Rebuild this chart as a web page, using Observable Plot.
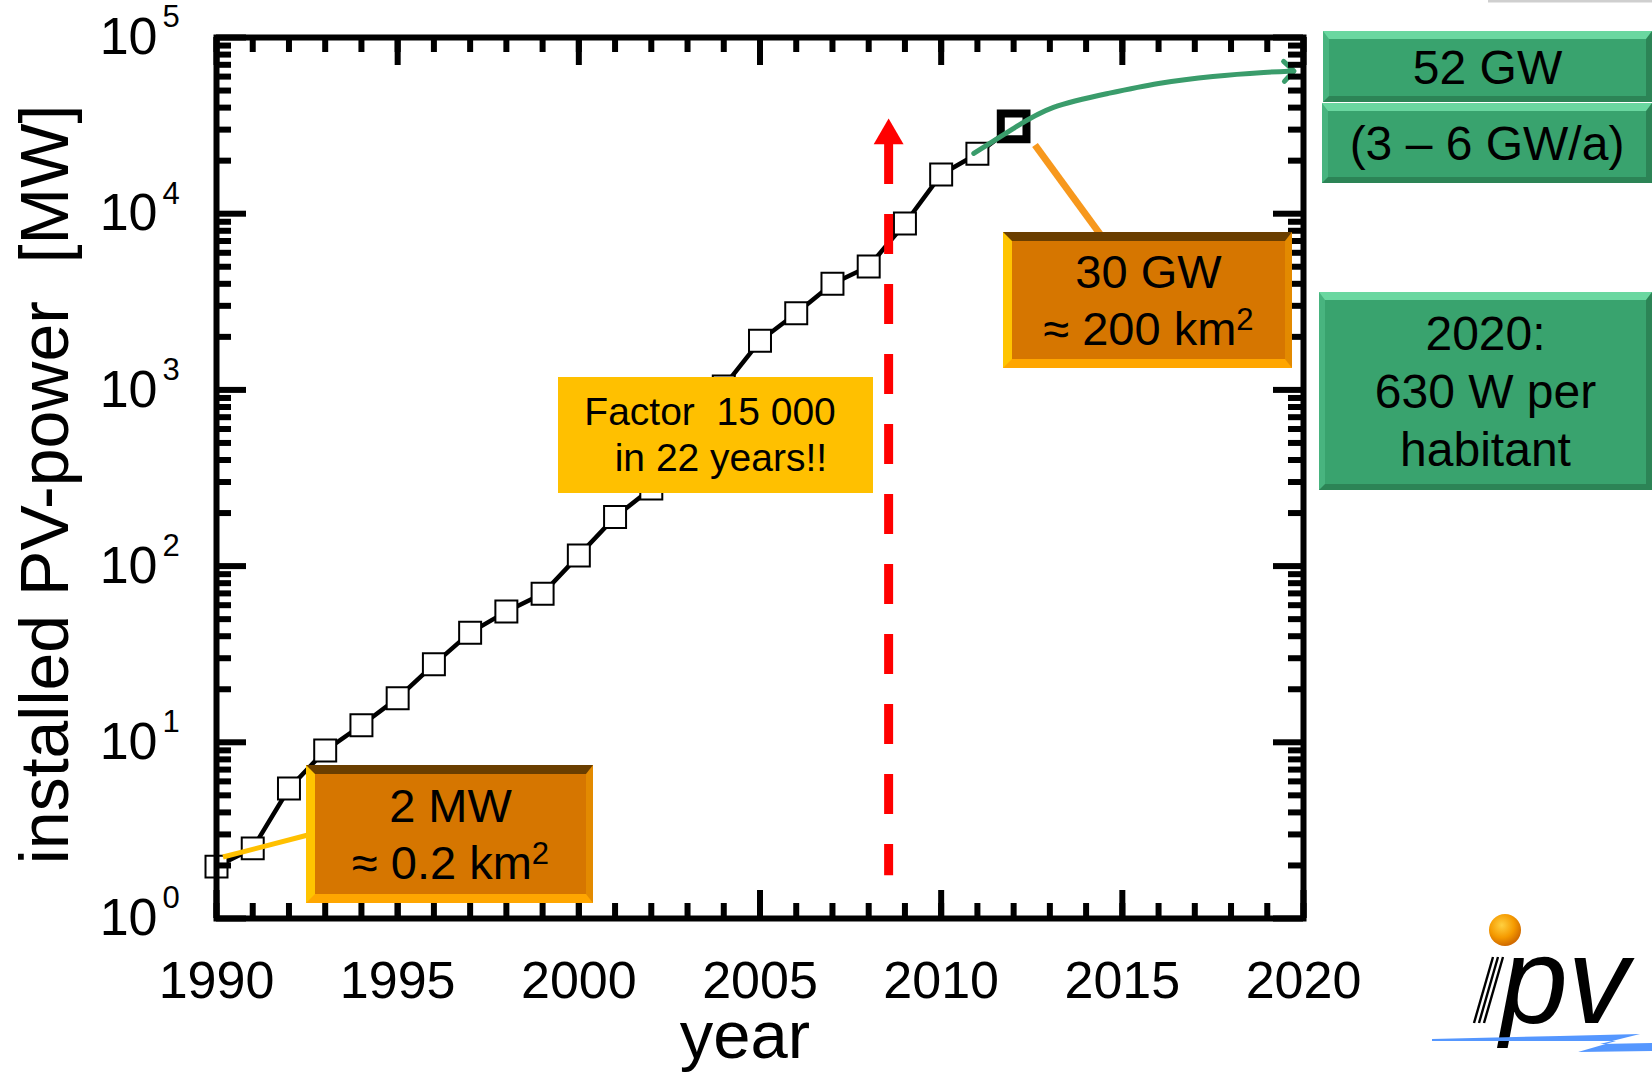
<!DOCTYPE html>
<html><head><meta charset="utf-8">
<script src="https://cdn.jsdelivr.net/npm/d3@7"></script>
<script src="https://cdn.jsdelivr.net/npm/@observablehq/plot@0.6"></script>
<style>
html,body{margin:0;padding:0;background:#fff;}
#wrap{position:relative;width:1652px;height:1072px;overflow:hidden;font-family:"Liberation Sans",Arial,sans-serif;}
#wrap > svg{position:absolute;left:0;top:0;}
.box{position:absolute;box-sizing:border-box;display:flex;flex-direction:column;justify-content:center;align-items:center;color:#000;white-space:pre;text-align:center;}
.obox{background:#D67600;border-style:solid;border-width:9px 7px 9px 9px;border-color:#6A3E00 #E38A00 #FFA600 #FFC400;font-size:47px;line-height:57px;}
.gbox{background:#39A36E;border-style:solid;border-width:8px 6px 6px 6px;border-color:#6AD7A0 #2C8456 #2C8456 #48B47F;font-size:48px;line-height:58px;}
.ybox{background:#FFC000;font-size:39px;line-height:46px;}
.sup{position:relative;top:-0.5em;font-size:0.66em;line-height:0;}
</style></head><body><div id="wrap"></div>
<script>
// ---- data ----
const years = [1990,1991,1992,1993,1994,1995,1996,1997,1998,1999,2000,2001,2002,2003,2004,2005,2006,2007,2008,2009,2010,2011,2012];
const power = [1.97,2.5,5.47,8.98,12.5,17.8,27.7,41.9,55.2,69.7,115,190,276,430,1045,1900,2720,4000,5010,8800,16700,21900,31300];
const projYears = [2010.9,2012,2013.1,2014.6,2016,2017.5,2018.9,2019.6];
const projPower = [22000,30500,40100,48100,54800,60100,63300,64400];
const xTickLabels = [1990,1995,2000,2005,2010,2015,2020];
const yTickExponents = [0,1,2,3,4,5];
const markerYear = [2008.55];
const markerRange = [1.75, 24700];
const markerHead = [27700];

const data = years.map((year,i)=>({year, power: power[i]}));
const proj = projYears.map((year,i)=>({year, power: projPower[i]}));
const yDecades = yTickExponents.map(e=>Math.pow(10,e));
const xMinor = d3.range(xTickLabels[0], xTickLabels[xTickLabels.length-1]+1);
const yMinor = yDecades.slice(0,-1).flatMap(d=>d3.range(2,10).map(m=>m*d));

const W=1652,H=1072,mL=216,mR=349,mT=37,mB=154;
const pw=W-mL-mR, ph=H-mT-mB;
const font="'Liberation Sans', Arial, sans-serif";

const chart = Plot.plot({
  width:W, height:H, marginLeft:mL, marginRight:mR, marginTop:mT, marginBottom:mB,
  x:{domain:[1990,2020], axis:null},
  y:{type:"log", domain:[1,1e5], axis:null},
  style:{fontFamily:font, background:"transparent", overflow:"visible", color:"#000"},
  marks:[
    Plot.line(data,{x:"year",y:"power",stroke:"#000",strokeWidth:4.5}),
    Plot.dot(data.slice(0,-1),{x:"year",y:"power",symbol:"square",r:12.4,fill:"#fff",stroke:"#000",strokeWidth:2}),
    Plot.dot(data.slice(-1),{x:"year",y:"power",symbol:"square",r:14.5,fill:"#fff",stroke:"#000",strokeWidth:8}),
    Plot.line(proj,{x:"year",y:"power",stroke:"#3A9C6B",strokeWidth:5,curve:"natural",markerEnd:"arrow"}),
    Plot.ruleX(markerYear,{x:d=>d,y1:markerRange[1],y2:markerRange[0],stroke:"#FF0000",strokeWidth:9,strokeDasharray:"40,30"}),
    Plot.dot(markerYear,{x:d=>d,y:markerHead[0],symbol:"triangle",r:11.1,fill:"#FF0000"}),
    Plot.tickX(xMinor,{x:d=>d,stroke:"#000",strokeWidth:6,insetTop:ph-15}),
    Plot.tickX(xMinor,{x:d=>d,stroke:"#000",strokeWidth:6,insetBottom:ph-15}),
    Plot.tickX(xTickLabels,{x:d=>d,stroke:"#000",strokeWidth:6,insetTop:ph-28}),
    Plot.tickX(xTickLabels,{x:d=>d,stroke:"#000",strokeWidth:6,insetBottom:ph-28}),
    Plot.tickY(yMinor,{y:d=>d,stroke:"#000",strokeWidth:6,insetRight:pw-15}),
    Plot.tickY(yMinor,{y:d=>d,stroke:"#000",strokeWidth:6,insetLeft:pw-15}),
    Plot.tickY(yDecades,{y:d=>d,stroke:"#000",strokeWidth:6,insetRight:pw-30}),
    Plot.tickY(yDecades,{y:d=>d,stroke:"#000",strokeWidth:6,insetLeft:pw-30}),
    Plot.frame({stroke:"#000",strokeWidth:6}),
    Plot.text(xTickLabels,{x:d=>d,frameAnchor:"bottom",lineAnchor:"bottom",dy:79,fontSize:52,fill:"#000",text:d=>String(d)}),
    Plot.text(yDecades,{y:d=>d,frameAnchor:"left",textAnchor:"end",dx:-59,fontSize:52,fill:"#000",text:()=>"10"}),
    Plot.text(yTickExponents,{y:d=>Math.pow(10,d),frameAnchor:"left",textAnchor:"start",dx:-54,dy:-20,fontSize:31,fill:"#000",text:d=>String(d)}),
    Plot.text(["year"],{frameAnchor:"bottom",textAnchor:"middle",lineAnchor:"bottom",dx:-15,dy:139,fontSize:67,fill:"#000"}),
    Plot.text(["installed PV-power\u00a0\u00a0[MW]"],{frameAnchor:"left",textAnchor:"middle",rotate:-90,lineAnchor:"bottom",dx:-149,dy:6.5,fontSize:68,fill:"#000"})
  ]
});
const wrap=document.getElementById("wrap");
wrap.appendChild(chart);

// overlay: connectors and logo
const ns="http://www.w3.org/2000/svg";
const ov=document.createElementNS(ns,"svg");
ov.setAttribute("width",W);ov.setAttribute("height",H);
ov.innerHTML=`
<defs><radialGradient id="ball" cx="40%" cy="35%" r="65%"><stop offset="0" stop-color="#FFD040"/><stop offset="0.6" stop-color="#F59A00"/><stop offset="1" stop-color="#D06A00"/></radialGradient></defs>
<line x1="223" y1="857" x2="308" y2="835" stroke="#FFC000" stroke-width="5"/>
<line x1="1035" y1="145" x2="1100" y2="234" stroke="#F7981D" stroke-width="7"/>
<path d="M1488,1 L1652,1" stroke="#cfcfcf" stroke-width="3"/>
<circle cx="1505" cy="930" r="16" fill="url(#ball)"/>
<g stroke="#000" stroke-width="2.4">
<line x1="1474" y1="1023" x2="1493" y2="957"/><line x1="1479" y1="1023" x2="1498" y2="957"/><line x1="1484" y1="1023" x2="1503" y2="957"/>
</g>
<text x="1500" y="1023" font-family="${font}" font-style="italic" font-size="122" fill="#000">pv</text>
<path d="M1432,1039 L1560,1036 L1640,1034 L1600,1044 L1652,1043 L1652,1051 L1578,1052 L1616,1041 L1432,1041 Z" fill="#5597FF"/>
`;
wrap.appendChild(ov);

function box(cls,x,y,w,h,html){const d=document.createElement("div");d.className="box "+cls;
  Object.assign(d.style,{left:x+"px",top:y+"px",width:w+"px",height:h+"px"});d.innerHTML=html;wrap.appendChild(d);}
box("obox",306,765,287,138,"<div>2 MW</div><div>≈ 0.2 km<span class='sup'>2</span></div>");
box("obox",1003,232,289,136,"<div>30 GW</div><div>≈ 200 km<span class='sup'>2</span></div>");
box("ybox",558,377,315,116,"<div>Factor  15 000 </div><div> in 22 years!!</div>");
box("gbox",1323,31,329,71,"<div>52 GW</div>");
box("gbox",1322,103,330,80,"<div>(3 – 6 GW/a)</div>");
box("gbox",1319,292,333,198,"<div>2020:</div><div>630 W per</div><div>habitant</div>");
</script></body></html>
